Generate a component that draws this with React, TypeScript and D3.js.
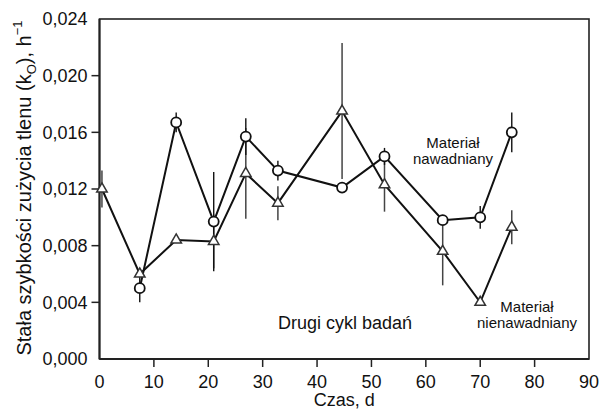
import * as d3 from "d3";

const xTicks = [0, 10, 20, 30, 40, 50, 60, 70, 80, 90];
const yTicks = [0, 0.004, 0.008, 0.012, 0.016, 0.02, 0.024];

// Materiał nawadniany (circles)
const wetDays = [7.4, 14.1, 21, 26.9, 32.8, 44.6, 52.4, 63.1, 70, 75.8];
const wetK = [0.005, 0.0167, 0.0097, 0.0157, 0.0133, 0.0121, 0.0143, 0.0098, 0.01, 0.016];
const wetErr = [0.001, 0.0007, 0.0035, 0.0013, 0.0007, 0, 0.0006, 0, 0.0008, 0.0014];

// Materiał nienawadniany (triangles)
const dryDays = [0.45, 7.4, 14.1, 21, 26.9, 32.8, 44.6, 52.4, 63.1, 70, 75.8];
const dryK = [0.012, 0.006, 0.0084, 0.0083, 0.0131, 0.011, 0.0175, 0.0123, 0.0076, 0.004, 0.0093];
const dryErr = [0.0013, 0, 0, 0.0019, 0.0032, 0.0012, 0.0048, 0.0019, 0.0024, 0, 0.0012];

const W = 603;
const H = 412;
const m = { left: 99.5, right: 14, top: 19, bottom: 53 };

const x = d3.scaleLinear().domain([0, 90]).range([m.left, W - m.right]);
const y = d3.scaleLinear().domain([0, 0.024]).range([H - m.bottom, m.top]);

const fmt = (v: number) => d3.format(".3f")(v).replace(".", ",");
const font = "'Liberation Sans', Arial, sans-serif";

export default function App() {
  const wet = wetDays.map((d, i) => ({ d, k: wetK[i], e: wetErr[i] }));
  const dry = dryDays.map((d, i) => ({ d, k: dryK[i], e: dryErr[i] }));
  const line = d3
    .line<{ d: number; k: number }>()
    .x((p) => x(p.d))
    .y((p) => y(p.k));
  const tri = d3.symbol().type(d3.symbolTriangle).size(48);

  const x0 = x(0);
  const x1 = x(90);
  const y0 = y(0);
  const y1 = y(0.024);

  return (
    <svg
      width={W}
      height={H}
      style={{ position: "absolute", left: 0, top: 0, background: "#fff" }}
      fontFamily={font}
    >
      {/* frame */}
      <rect x={x0} y={y1} width={x1 - x0} height={y0 - y1} fill="none" stroke="#222" strokeWidth={1.6} />
      <line x1={x0} x2={x0} y1={y1} y2={y0} stroke="#222" strokeWidth={2} />
      <line x1={x0} x2={x1} y1={y0} y2={y0} stroke="#222" strokeWidth={2} />

      {/* y ticks */}
      {yTicks.map((t) => (
        <g key={t}>
          {t > 0 && t < 0.024 && (
            <line x1={x0 - 8} x2={x0} y1={y(t)} y2={y(t)} stroke="#222" strokeWidth={1.5} />
          )}
          <text x={x0 - 12} y={y(t)} dy="0.36em" textAnchor="end" fontSize={18} fill="#111">
            {fmt(t)}
          </text>
        </g>
      ))}

      {/* x ticks */}
      {xTicks.map((t) => (
        <g key={t}>
          {t > 0 && t < 90 && (
            <line x1={x(t)} x2={x(t)} y1={y0} y2={y0 + 8} stroke="#222" strokeWidth={1.5} />
          )}
          <text x={x(t)} y={y0 + 29} textAnchor="middle" fontSize={18} fill="#111">
            {t}
          </text>
        </g>
      ))}

      {/* axis titles */}
      <text x={(x0 + x1) / 2} y={406} textAnchor="middle" fontSize={18} fill="#111">
        Czas, d
      </text>
      <text
        transform="translate(31,188) rotate(-90)"
        textAnchor="middle"
        fontSize={20}
        fill="#111"
      >
        Stała szybkości zużycia tlenu (k
        <tspan fontSize={13} dy={5}>O</tspan>
        <tspan dy={-5}>), h</tspan>
        <tspan fontSize={13} dy={-9}>−1</tspan>
      </text>

      {/* lines */}
      <path d={line(wet) ?? ""} fill="none" stroke="#111" strokeWidth={2} />
      <path d={line(dry) ?? ""} fill="none" stroke="#111" strokeWidth={2} />

      {/* error bars */}
      {dry
        .filter((p) => p.e > 0)
        .map((p, i) => (
          <line
            key={"de" + i}
            x1={x(p.d)}
            x2={x(p.d)}
            y1={y(p.k - p.e)}
            y2={y(p.k + p.e)}
            stroke="#444"
            strokeWidth={1.5}
          />
        ))}
      {wet
        .filter((p) => p.e > 0)
        .map((p, i) => (
          <line
            key={"we" + i}
            x1={x(p.d)}
            x2={x(p.d)}
            y1={y(p.k - p.e)}
            y2={y(p.k + p.e)}
            stroke="#111"
            strokeWidth={1.4}
          />
        ))}

      {/* markers */}
      {dry.map((p, i) => (
        <path
          key={"dm" + i}
          d={tri() ?? ""}
          transform={`translate(${x(p.d)},${y(p.k)})`}
          fill="#fff"
          stroke="#333"
          strokeWidth={1.5}
        />
      ))}
      {wet.map((p, i) => (
        <circle key={"wm" + i} cx={x(p.d)} cy={y(p.k)} r={5} fill="#fff" stroke="#111" strokeWidth={1.8} />
      ))}

      {/* annotations */}
      <text x={278} y={329} fontSize={18} fill="#111">
        Drugi cykl badań
      </text>
      <text textAnchor="middle" fontSize={15} fill="#111">
        <tspan x={453} y={148}>Materiał</tspan>
        <tspan x={453} y={164}>nawadniany</tspan>
      </text>
      <text textAnchor="middle" fontSize={15} fill="#111">
        <tspan x={527} y={312}>Materiał</tspan>
        <tspan x={527} y={328}>nienawadniany</tspan>
      </text>
    </svg>
  );
}
